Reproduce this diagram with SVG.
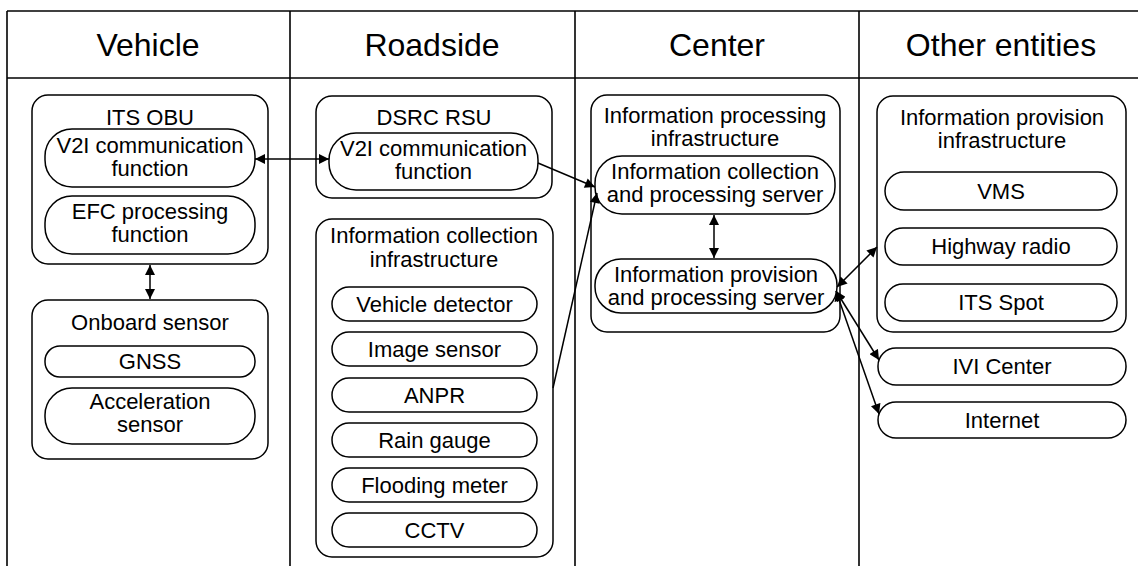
<svg xmlns="http://www.w3.org/2000/svg" width="1138" height="566" viewBox="0 0 1138 566">
<style>
.tbl{stroke:#000;stroke-width:1.6;fill:none}
.box{fill:#fff;stroke:#000;stroke-width:1.5}
.hdr{font-family:"Liberation Sans",Arial,sans-serif;font-size:32px;fill:#000;text-anchor:middle}
.t{font-family:"Liberation Sans",Arial,sans-serif;font-size:22px;fill:#000;text-anchor:middle}
.c{stroke:#000;stroke-width:1.5;fill:none}
</style>
<defs>
<marker id="ah" viewBox="0 0 10 10" refX="10" refY="5" markerWidth="11" markerHeight="10" markerUnits="userSpaceOnUse" orient="auto-start-reverse">
<path d="M0,0 L10,5 L0,10 z" fill="#000"/>
</marker>
</defs>
<rect width="1138" height="566" fill="#fff"/>
<g id="table">
<line class="tbl" x1="7" y1="11" x2="1138" y2="11"/>
<line class="tbl" x1="7" y1="78" x2="1138" y2="78"/>
<line class="tbl" x1="7" y1="11" x2="7" y2="566"/>
<line class="tbl" x1="290" y1="11" x2="290" y2="566"/>
<line class="tbl" x1="575" y1="11" x2="575" y2="566"/>
<line class="tbl" x1="859" y1="11" x2="859" y2="566"/>
<text class="hdr" x="148" y="56">Vehicle</text>
<text class="hdr" x="432" y="56">Roadside</text>
<text class="hdr" x="717" y="56">Center</text>
<text class="hdr" x="1001" y="56">Other entities</text>
</g>
<g id="its-obu">
<rect class="box" x="32" y="95" width="236" height="169" rx="16"/>
<text class="t" x="150" y="125">ITS OBU</text>
</g>
<g id="obu-v2i">
<rect class="box" x="45" y="129" width="210" height="58" rx="27"/>
<text class="t" x="150" y="153">V2I communication</text>
<text class="t" x="150" y="176">function</text>
</g>
<g id="obu-efc">
<rect class="box" x="45" y="196" width="210" height="58" rx="27"/>
<text class="t" x="150" y="219">EFC processing</text>
<text class="t" x="150" y="242">function</text>
</g>
<g id="onboard-sensor">
<rect class="box" x="32" y="300" width="236" height="159" rx="16"/>
<text class="t" x="150" y="330">Onboard sensor</text>
</g>
<g id="gnss">
<rect class="box" x="45" y="346" width="210" height="31" rx="15"/>
<text class="t" x="150" y="369">GNSS</text>
</g>
<g id="accel">
<rect class="box" x="45" y="388" width="210" height="56" rx="27"/>
<text class="t" x="150" y="409">Acceleration</text>
<text class="t" x="150" y="432">sensor</text>
</g>
<g id="dsrc-rsu">
<rect class="box" x="316" y="96" width="236" height="102" rx="16"/>
<text class="t" x="434" y="125">DSRC RSU</text>
</g>
<g id="rsu-v2i">
<rect class="box" x="329" y="133" width="209" height="57" rx="27"/>
<text class="t" x="433.5" y="156">V2I communication</text>
<text class="t" x="433.5" y="179">function</text>
</g>
<g id="info-collection-infra">
<rect class="box" x="316" y="219" width="237" height="338" rx="16"/>
<text class="t" x="434" y="243">Information collection</text>
<text class="t" x="434" y="267">infrastructure</text>
</g>
<g id="vehicle-detector">
<rect class="box" x="332" y="287" width="205" height="34" rx="17"/>
<text class="t" x="434.5" y="312">Vehicle detector</text>
</g>
<g id="image-sensor">
<rect class="box" x="332" y="332" width="205" height="34" rx="17"/>
<text class="t" x="434.5" y="357">Image sensor</text>
</g>
<g id="anpr">
<rect class="box" x="332" y="378" width="205" height="34" rx="17"/>
<text class="t" x="434.5" y="403">ANPR</text>
</g>
<g id="rain-gauge">
<rect class="box" x="332" y="423" width="205" height="34" rx="17"/>
<text class="t" x="434.5" y="448">Rain gauge</text>
</g>
<g id="flooding-meter">
<rect class="box" x="332" y="468" width="205" height="34" rx="17"/>
<text class="t" x="434.5" y="493">Flooding meter</text>
</g>
<g id="cctv">
<rect class="box" x="332" y="513" width="205" height="34" rx="17"/>
<text class="t" x="434.5" y="538">CCTV</text>
</g>
<g id="info-processing-infra">
<rect class="box" x="591" y="95" width="249" height="237" rx="16"/>
<text class="t" x="715" y="123">Information processing</text>
<text class="t" x="715" y="146">infrastructure</text>
</g>
<g id="collection-server">
<rect class="box" x="595" y="156" width="240" height="58" rx="27"/>
<text class="t" x="715" y="179">Information collection</text>
<text class="t" x="715" y="202">and processing server</text>
</g>
<g id="provision-server">
<rect class="box" x="595" y="259" width="242" height="54" rx="26"/>
<text class="t" x="716" y="282">Information provision</text>
<text class="t" x="716" y="305">and processing server</text>
</g>
<g id="info-provision-infra">
<rect class="box" x="877" y="96" width="249" height="236" rx="16"/>
<text class="t" x="1002" y="125">Information provision</text>
<text class="t" x="1002" y="148">infrastructure</text>
</g>
<g id="vms">
<rect class="box" x="885" y="172" width="232" height="38" rx="19"/>
<text class="t" x="1001" y="199">VMS</text>
</g>
<g id="highway-radio">
<rect class="box" x="885" y="228" width="232" height="37" rx="18"/>
<text class="t" x="1001" y="254">Highway radio</text>
</g>
<g id="its-spot">
<rect class="box" x="885" y="284" width="232" height="37" rx="18"/>
<text class="t" x="1001" y="310">ITS Spot</text>
</g>
<g id="ivi-center">
<rect class="box" x="878" y="348" width="248" height="37" rx="18"/>
<text class="t" x="1002" y="374">IVI Center</text>
</g>
<g id="internet">
<rect class="box" x="878" y="402" width="248" height="36" rx="18"/>
<text class="t" x="1002" y="428">Internet</text>
</g>
<g id="connectors">
<line class="c" x1="255" y1="159" x2="329" y2="159" marker-start="url(#ah)" marker-end="url(#ah)"/>
<line class="c" x1="150" y1="265" x2="150" y2="299" marker-start="url(#ah)" marker-end="url(#ah)"/>
<line class="c" x1="538" y1="163" x2="595" y2="187" marker-end="url(#ah)"/>
<line class="c" x1="553" y1="388" x2="597" y2="193" marker-end="url(#ah)"/>
<line class="c" x1="714" y1="215" x2="714" y2="258" marker-start="url(#ah)" marker-end="url(#ah)"/>
<line class="c" x1="837" y1="287" x2="877" y2="247" marker-start="url(#ah)" marker-end="url(#ah)"/>
<line class="c" x1="836" y1="291" x2="879" y2="360" marker-start="url(#ah)" marker-end="url(#ah)"/>
<line class="c" x1="836" y1="291" x2="879" y2="414" marker-start="url(#ah)" marker-end="url(#ah)"/>
</g>
</svg>
